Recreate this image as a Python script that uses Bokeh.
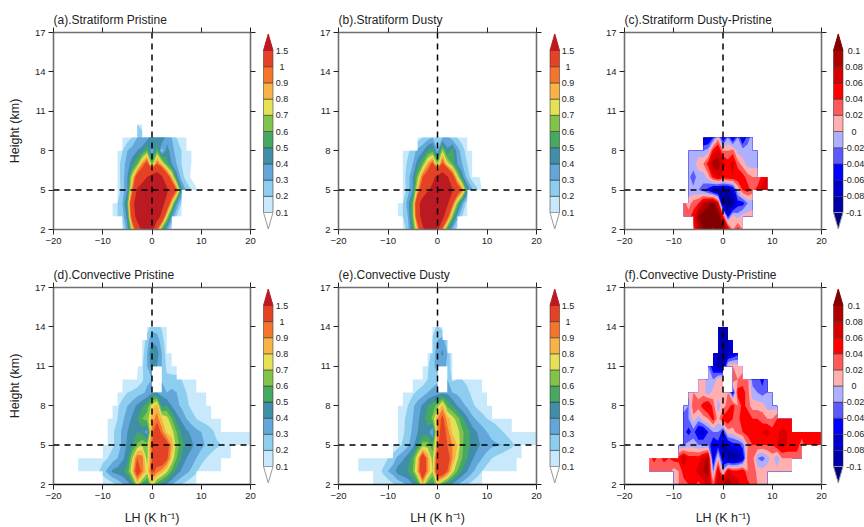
import numpy as np
from contourpy import contour_generator, FillType
from bokeh.plotting import figure
from bokeh.layouts import row, column
from bokeh.models import Range1d, FixedTicker, LinearAxis, Span
from bokeh.embed import file_html
from bokeh.resources import INLINE

N = float("nan")
FONT = "Liberation Sans"

X_TICKS = [-20, -10, 0, 10, 20]
Y_TICKS = [2, 5, 8, 11, 14, 17]

LH_LEVELS = [0.1, 0.2, 0.3, 0.4, 0.5, 0.6, 0.7, 0.8, 0.9, 1, 1.5]
LH_LABELS = ["0.1", "0.2", "0.3", "0.4", "0.5", "0.6", "0.7", "0.8", "0.9", "1", "1.5"]
LH_COLORS = ["#c8e9fb", "#8dcef0", "#63a6da", "#408fa9", "#45a960", "#82c44b",
             "#e4e155", "#f7b345", "#f5752c", "#e34324", "#bb1a22"]
DIFF_LEVELS = [-0.1, -0.08, -0.06, -0.04, -0.02, 0, 0.02, 0.04, 0.06, 0.08, 0.1]
DIFF_LABELS = ["-0.1", "-0.08", "-0.06", "-0.04", "-0.02", "0", "0.02", "0.04", "0.06", "0.08", "0.1"]
DIFF_COLORS = ["#000082", "#0000aa", "#0000cd", "#0000ff", "#5a5aff", "#afafff",
               "#ffafaf", "#ff5a5a", "#ff0000", "#d70000", "#af0000", "#820000"]

# each row: height (km), first LH bin, last LH bin, values (K/h bins at 1 K/h spacing)
STRAT_PRISTINE = [
 (2, -6, 4, [.15,.35,.75,1.2,1.6,1.8,1.7,1.0,.55,.35,.15]),
 (3, -8, 6, [.12,.2,.25,.45,1.2,1.7,2,2,1.9,1.8,1.35,.75,.4,.2,.12]),
 (4, -8, 6, [.12,.2,.3,.55,1.35,1.75,2,2.1,2,1.8,1.7,1.3,.8,.4,.2]),
 (5, -7, 9, [.12,.25,.4,.95,1.55,1.8,1.9,2,1.9,1.8,1.6,1.3,1.0,.45,.28,.2,.12]),
 (6, -7, 9, [.15,.25,.4,.75,1.15,1.25,1.5,1.7,1.8,1.55,1.2,.85,.45,.25,.15,.08,.03]),
 (7, -7, 8, [.15,.25,.35,.45,.6,.9,1.1,.6,1.0,.8,.55,.4,.3,.2,.15,.1]),
 (8, -7, 8, [.12,.2,.3,.35,.4,.45,.6,.3,.6,.25,.45,.35,.25,.2,.12,.1]),
 (9, -6, 7, [.1,.15,.2,.3,.3,.35,.5,.4,.5,.35,.3,.2,.12,.1]),
 (10, -3, -2, [.2,.12]),
]
STRAT_DUSTY = [
 (2, -7, 4, [.12,.25,.5,.85,1.4,1.75,1.8,1.6,.9,.5,.3,.15]),
 (3, -8, 6, [.12,.2,.3,.6,1.25,1.75,2,2,1.9,1.7,1.1,.65,.35,.2,.12]),
 (4, -8, 6, [.12,.2,.35,.6,1.35,1.7,1.85,2,2,1.85,1.6,1.05,.65,.35,.15]),
 (5, -7, 9, [.12,.25,.4,.85,1.25,1.45,1.6,1.9,1.9,1.75,1.55,1.2,.95,.5,.32,.22,.1]),
 (6, -7, 9, [.15,.25,.4,.65,1.0,1.15,1.4,1.6,1.75,1.55,1.15,.75,.45,.25,.15,.12,.08]),
 (7, -7, 7, [.15,.22,.3,.45,.6,.85,1.05,.65,1.05,.75,.6,.4,.3,.2,.12]),
 (8, -7, 7, [.1,.18,.25,.33,.38,.5,.55,.3,.7,.42,.55,.35,.25,.15,.1]),
 (9, -4, 6, [.15,.2,.25,.3,.25,.3,.32,.25,.2,.15,.12]),
]
STRAT_DIFF = [
 (2, -6, 4, [.03,.08,.1,.12,.09,.12,.12,.07,.02,.05,.02]),
 (3, -8, 6, [.02,.03,.05,.1,.11,.13,.13,.12,.05,-.05,.01,-.01,.01,.01,.01]),
 (4, -8, 6, [.03,.01,.03,.04,.08,.09,.11,.06,-.1,-.12,-.1,-.05,-.05,-.02,-.01]),
 (5, -7, 9, [-.01,-.015,-.02,-.03,-.05,-.08,-.09,-.09,-.09,-.07,0,.04,.05,.03,.05,.07,.07]),
 (6, -7, 9, [-.015,-.03,-.01,-.01,.01,.05,.07,.05,.06,.06,.06,.05,.03,.02,.02,.05,.06]),
 (7, -7, 7, [-.015,-.01,.01,.02,.05,.09,.09,.07,.05,.07,.03,.01,-.01,-.01,-.01]),
 (8, -7, 7, [-.01,-.02,-.01,-.02,-.01,.05,.07,.02,.02,.03,-.01,-.01,-.01,-.015,-.01]),
 (9, -4, 6, [-.07,-.07,-.04,.01,-.07,-.02,-.07,-.02,-.07,-.03,-.01]),
]
CONV_PRISTINE = [
 (2, -10, 9, [.1,.12,.16,.22,.28,.35,.45,.75,.55,.45,.75,.55,.45,.38,.3,.25,.2,.16,.12,.1]),
 (3, -15, 14, [.12,.12,.12,.13,.18,.25,.33,.42,.45,.48,.55,.8,1.15,.95,.75,1.05,.95,.85,.72,.58,.46,.38,.33,.28,.22,.14,.12,.11,.1,.1]),
 (4, -15, 16, [.12,.12,.12,.13,.14,.17,.2,.25,.3,.38,.45,.7,1.0,.95,.65,1.0,1.1,1.2,1.05,.78,.6,.48,.4,.36,.3,.26,.2,.16,.14,.12,.11,.1]),
 (5, -10, 20, [.1,.12,.18,.25,.32,.42,.5,.62,.7,.65,1.0,1.25,1.25,1.1,.88,.65,.55,.45,.42,.37,.32,.29,.26,.22,.2,.15,.12,.1,.1,.1,.1]),
 (6, -9, 20, [.12,.18,.25,.32,.4,.45,.5,.45,.35,.95,1.15,.95,.78,.75,.6,.48,.42,.38,.33,.3,.27,.23,.18,.15,.11,.11,.11,.12,.12,.12]),
 (7, -9, 14, [.1,.15,.2,.28,.35,.42,.5,.6,.65,.85,.95,.8,.75,.6,.45,.38,.3,.24,.2,.17,.15,.13,.12,.1]),
 (8, -8, 12, [.12,.18,.25,.3,.35,.42,.48,.55,.75,.85,.45,.5,.4,.33,.28,.22,.18,.16,.13,.11,.1]),
 (9, -7, 11, [.12,.15,.2,.22,.25,.28,.32,.38,.4,.38,.3,.32,.3,.25,.2,.18,.15,.12,.1]),
 (10, -6, 9, [.12,.12,.1,.12,.18,.28,.3,N,.28,.22,.25,.25,.2,.15,.12,.1]),
 (11, -3, 5, [.08,.18,.3,.45,.4,.3,.18,.12,.1]),
 (12, -2, 4, [.15,.3,.5,.45,.3,.15,.1]),
 (13, -2, 3, [.12,.25,.38,.35,.25,.12]),
 (14, -1, 3, [.15,.25,.25,.18,.12]),
]
CONV_DUSTY = [
 (2, -13, 9, [.1,.11,.12,.14,.18,.22,.27,.32,.4,.5,.8,.55,.45,.75,.55,.45,.38,.3,.25,.2,.16,.12,.1]),
 (3, -16, 16, [.12,.12,.12,.13,.15,.22,.3,.35,.45,.48,.5,.6,.85,1.25,.9,.7,1.15,1.2,1.0,.75,.6,.48,.4,.32,.26,.2,.15,.13,.12,.11,.11,.11,.1]),
 (4, -16, 17, [.12,.12,.12,.12,.13,.15,.2,.25,.33,.38,.45,.55,.8,1.2,.9,.65,1.1,1.25,1.1,.9,.72,.6,.5,.42,.35,.3,.25,.2,.17,.14,.13,.12,.11,.1]),
 (5, -9, 20, [.12,.16,.22,.28,.36,.5,.65,.65,.55,.95,1.15,1.0,.9,.8,.62,.52,.48,.43,.38,.35,.32,.31,.3,.25,.22,.18,.12,.1,.1,.1]),
 (6, -8, 20, [.12,.18,.25,.32,.4,.45,.45,.3,.9,1.1,.95,.78,.75,.62,.55,.45,.4,.35,.3,.27,.25,.21,.18,.15,.12,.11,.12,.12,.12]),
 (7, -8, 15, [.12,.17,.24,.3,.38,.45,.55,.62,.9,1.05,.85,.75,.65,.52,.42,.33,.28,.24,.2,.18,.15,.12,.11,.1]),
 (8, -8, 11, [.1,.15,.2,.28,.35,.42,.5,.55,.65,.85,.58,.5,.4,.33,.28,.22,.18,.15,.13,.1]),
 (9, -7, 10, [.11,.14,.18,.22,.25,.3,.33,.35,.38,.38,.3,.28,.25,.22,.18,.15,.13,.1]),
 (10, -5, 9, [.1,.12,.15,.2,.25,.28,N,.3,.18,.2,.2,.18,.14,.11,.1]),
 (11, -3, 3, [.1,.18,.28,.33,.35,.28,.15]),
 (12, -2, 3, [.12,.25,.35,.42,.3,.13]),
 (13, -1, 2, [.22,.3,.35,.2]),
 (14, -1, 1, [.15,.22,.15]),
]
CONV_DIFF = [
 (2, -10, 9, [.01,.02,.03,.04,.05,.03,.05,.07,.03,.07,.09,.09,.08,.07,.04,.05,.03,.02,.015,.01]),
 (3, -15, 14, [.02,.02,.02,.02,.03,.01,.02,.05,.05,.05,.07,.08,.09,-.02,.07,-.01,.07,.05,.05,.06,.02,.04,.01,.01,.01,.015,.01,.015,.01,.01]),
 (4, -15, 16, [.03,.05,.03,.05,.04,.05,.05,.08,.05,.05,.05,.07,.09,-.07,.01,-.07,-.1,-.1,-.09,-.07,.03,.03,-.02,-.03,-.01,.01,-.02,.02,.02,.02,.03,.02]),
 (5, -9, 20, [-.02,-.02,-.01,-.01,-.02,-.02,-.02,-.07,-.05,-.09,-.07,-.05,-.05,-.03,.02,.04,.04,.04,.04,.04,.06,.07,.06,.06,.05,.03,.05,.05,.045,.045]),
 (6, -8, 20, [-.03,-.05,-.03,-.07,-.07,-.04,-.02,-.02,-.05,.01,.01,.03,.04,.05,.06,.05,.06,.07,.05,.05,.07,.06,.05,.04,.05,.05,.05,.05,.05]),
 (7, -8, 14, [-.03,-.02,.01,-.01,.01,.02,.05,.01,.05,.06,.04,.03,.06,.06,.04,.04,.03,.02,.02,.04,.04,.04,.04]),
 (8, -8, 11, [-.01,-.02,.04,.03,.05,.07,.03,-.01,.01,.03,.05,.02,.05,.03,.01,.01,.01,-.01,-.01,-.01]),
 (9, -7, 10, [.01,.02,.01,.01,-.015,.01,.01,.02,.02,-.06,.05,.05,.03,-.01,-.02,-.03,-.02,-.01]),
 (10, -5, 9, [.01,.01,-.01,-.02,.01,.02,N,.04,.02,.03,.03,-.03,-.03,-.05,-.02]),
 (11, -3, 4, [-.02,-.06,-.09,-.1,.01,.02,.01,.01]),
 (12, -2, 3, [-.06,-.08,-.1,-.08,-.07,-.05]),
 (13, -1, 2, [-.07,-.09,-.08,-.05]),
 (14, -1, 1, [-.08,-.09,-.07]),
]

AXIS_GRAY = "#6f6f6f"
INK = "#222222"


def to_grid(rows):
    xs = np.arange(-20, 21)
    ys = np.arange(2, 18)
    z = np.full((ys.size, xs.size), np.nan)
    for h, x0, x1, vals in rows:
        assert x1 - x0 + 1 == len(vals), (h, x0, x1, len(vals))
        z[h - 2, x0 + 20 : x1 + 21] = vals
    return xs, ys, z


def draw_filled(p, rows, levels, colors):
    xs, ys, z = to_grid(rows)
    gen = contour_generator(xs, ys, np.ma.masked_invalid(z), name="serial",
                            corner_mask=False, fill_type=FillType.OuterOffset)
    lows = list(levels)
    cols = list(colors)
    if len(cols) == len(lows) + 1:      # open lower band
        lows = [-1e6] + lows
    for lo, col in zip(lows, cols):
        polys, offsets = gen.filled(lo, 1e6)
        mx, my = [], []
        for pts, off in zip(polys, offsets):
            rx = [pts[off[i]:off[i + 1], 0].tolist() for i in range(len(off) - 1)]
            ry = [pts[off[i]:off[i + 1], 1].tolist() for i in range(len(off) - 1)]
            mx.append([rx])
            my.append([ry])
        if mx:
            p.multi_polygons(xs=mx, ys=my, fill_color=col, line_color=None)


def panel(title, rows, levels, colors, left, width_total, height, top, bottom, show_h, show_x, bottom_color):
    p = figure(width=width_total, height=height, output_backend="svg", toolbar_location=None,
               x_range=Range1d(-20, 20), y_range=Range1d(2, 17),
               x_axis_label="LH (K h\u207b\u00b9)" if show_x else None,
               y_axis_label="Height (km)" if show_h else None,
               min_border_left=left, min_border_right=8, min_border_top=top, min_border_bottom=bottom,
               title=title)
    p.outline_line_color = None
    p.grid.visible = False
    p.background_fill_color = "white"
    draw_filled(p, rows, levels, colors)
    p.add_layout(Span(location=0, dimension="height", line_color="black", line_width=1.5, line_dash="6 5"))
    p.add_layout(Span(location=5, dimension="width", line_color="black", line_width=1.5, line_dash="6 5"))
    bottom_ax = p.below[0]
    left_ax = p.left[0]
    top_ax = LinearAxis(); right_ax = LinearAxis()
    p.add_layout(top_ax, "above")
    p.add_layout(right_ax, "right")
    for ax, ticks in [(bottom_ax, X_TICKS), (top_ax, X_TICKS), (left_ax, Y_TICKS), (right_ax, Y_TICKS)]:
        ax.ticker = FixedTicker(ticks=ticks)
        ax.minor_tick_line_color = None
        ax.axis_line_color = AXIS_GRAY
        ax.axis_line_width = 1.6
        ax.major_tick_line_color = INK
        ax.major_tick_line_width = 1
        ax.major_tick_out = 5
        ax.major_tick_in = 0
        ax.major_label_text_font = FONT
        ax.major_label_text_font_size = "9.5px"
        ax.major_label_text_color = INK
        ax.major_label_standoff = 3
        ax.axis_label_text_font = FONT
        ax.axis_label_text_font_size = "12.5px"
        ax.axis_label_text_font_style = "normal"
        ax.axis_label_text_color = INK
    top_ax.major_label_overrides = {t: "" for t in X_TICKS}
    right_ax.major_label_overrides = {t: "" for t in Y_TICKS}
    top_ax.major_label_standoff = 0
    right_ax.major_label_standoff = 0
    bottom_ax.axis_line_color = bottom_color
    left_ax.axis_label_standoff = 10
    bottom_ax.axis_label_standoff = 9
    p.title.text_font = FONT
    p.title.text_font_size = "12px"
    p.title.text_font_style = "normal"
    p.title.text_color = INK
    p.title.offset = 0
    p.title.standoff = 1
    return p


def colorbar(width, height, top, bottom, y_top, y_bottom, levels, labels, colors, bar_left, label_x):
    c = figure(width=width, height=height, output_backend="svg", toolbar_location=None,
               x_range=Range1d(0, width), y_range=Range1d(y_bottom, y_top),
               min_border_left=0, min_border_right=0, min_border_top=top, min_border_bottom=bottom,
               x_axis_type=None, y_axis_type=None)
    c.outline_line_color = None
    c.grid.visible = False
    n = len(levels)
    bar_w = 9.5
    idx = np.arange(n)
    c.quad(left=[bar_left] * (n - 1), right=[bar_left + bar_w] * (n - 1),
           bottom=idx[:-1].tolist(), top=idx[1:].tolist(),
           fill_color=colors[-(n):-1] if len(colors) == n + 1 else colors[:n - 1],
           line_color="#333333", line_alpha=0.55, line_width=1)
    mid = bar_left + bar_w / 2
    upper = colors[-1]
    lower = colors[0] if len(colors) == n + 1 else "white"
    c.patch([bar_left, bar_left + bar_w, mid], [n - 1, n - 1, n - 1 + 1.02], fill_color=upper, line_color=upper)
    c.patch([bar_left, bar_left + bar_w, mid], [0, 0, -1.02], fill_color=lower, line_color="#999999")
    c.text(x=[label_x] * n, y=idx.tolist(), text=labels, text_font={"value": FONT}, text_font_size="9px",
           text_align="center", text_baseline="middle", text_color=INK)
    return c


ROW1_H, ROW2_H = 263, 264
COL_W = [293, 286, 285]
PANEL_LEFT = [53, 45, 45]
CB_W = 35

# the colour-bar frame lines up with the panel frame of its row
def scale_span(frame_top, frame_bottom, zero_px, step):
    return (zero_px - frame_top) / step, (zero_px - frame_bottom) / step

r1 = scale_span(32, 229, 212, 16.2)
r2 = scale_span(287, 484, 466, 16.1)

PANELS = [
 [("(a).Stratiform Pristine", STRAT_PRISTINE, LH_LEVELS, LH_COLORS, LH_LABELS, 5, 23.5),
  ("(b).Stratiform Dusty", STRAT_DUSTY, LH_LEVELS, LH_COLORS, LH_LABELS, 5.5, 23.5),
  ("(c).Stratiform Dusty-Pristine", STRAT_DIFF, DIFF_LEVELS, DIFF_COLORS, DIFF_LABELS, 4, 24.6)],
 [("(d).Convective Pristine", CONV_PRISTINE, LH_LEVELS, LH_COLORS, LH_LABELS, 5, 23.5),
  ("(e).Convective Dusty", CONV_DUSTY, LH_LEVELS, LH_COLORS, LH_LABELS, 5.5, 23.5),
  ("(f).Convective Dusty-Pristine", CONV_DIFF, DIFF_LEVELS, DIFF_COLORS, DIFF_LABELS, 4, 24.6)],
]

rows_out = []
for ri, (specs, H, span, top, bottom) in enumerate([(PANELS[0], ROW1_H, r1, 32, 34), (PANELS[1], ROW2_H, r2, 24, 43)]):
    kids = []
    for ci, (title, data, levels, colors, labels, bl, lx) in enumerate(specs):
        w = COL_W[ci] - CB_W
        kids.append(panel(title, data, levels, colors, PANEL_LEFT[ci], w, H, top, bottom,
                          show_h=(ci == 0), show_x=(ri == 1),
                          bottom_color=AXIS_GRAY if ri == 0 else "#111111"))
        kids.append(colorbar(CB_W, H, top, bottom, span[0], span[1], levels, labels, colors, bl, lx))
    rows_out.append(row(*kids, spacing=0))

page = column(*rows_out, spacing=0)
open("out.html", "w").write(file_html(page, INLINE))
